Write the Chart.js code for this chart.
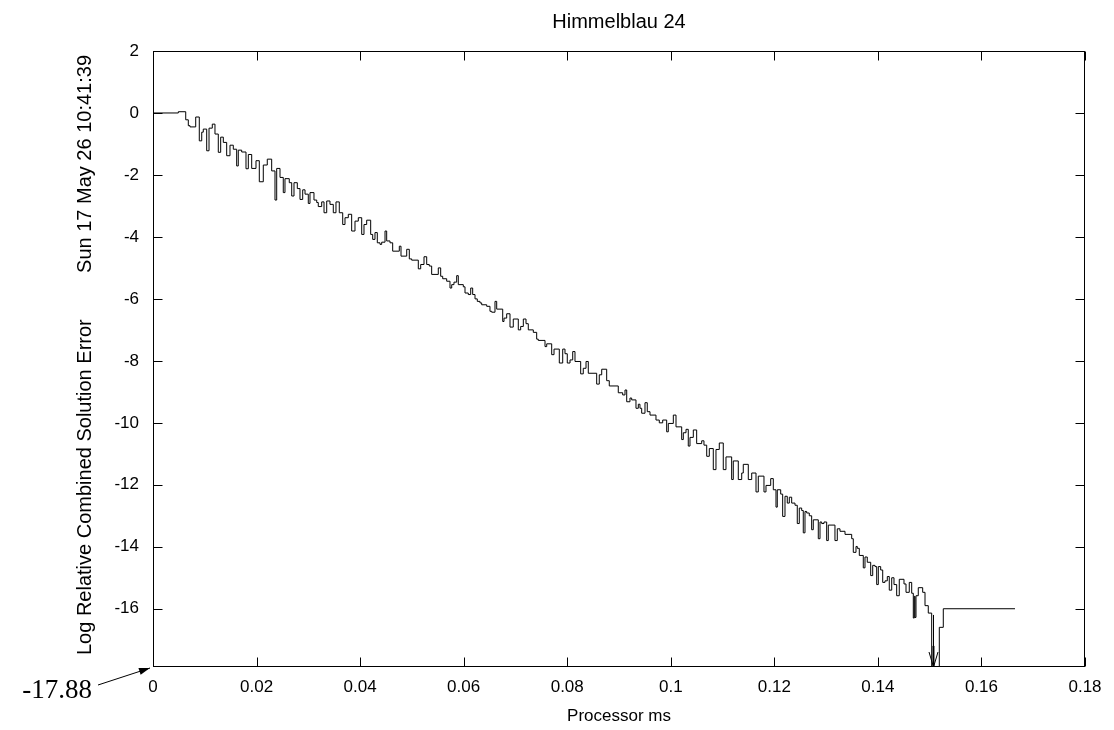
<!DOCTYPE html>
<html><head><meta charset="utf-8">
<script src="https://cdn.jsdelivr.net/npm/chart.js@4.4.1/dist/chart.umd.min.js"></script>
<style>html,body{margin:0;padding:0;background:#fff;}canvas{display:block;}</style>
</head><body>
<canvas id="c" width="1114" height="730"></canvas>
<script>
const titleText = 'Himmelblau 24';
const xAxisLabel = 'Processor ms';
const yAxisLabel = 'Log Relative Combined Solution Error';
const stampText = 'Sun 17 May 26 10:41:39';
const floorLabel = '-17.88';
const xTickValues = [0, 0.02, 0.04, 0.06, 0.08, 0.1, 0.12, 0.14, 0.16, 0.18];
const yTickValues = [-16, -14, -12, -10, -8, -6, -4, -2, 0, 2];
const xMin = 0, xMax = 0.18, yMin = -17.88, yMax = 2;
const arrowX = 0.15064, arrowFrom = -16.2;

const timeMs = [
0, 0.00489, 0.00632, 0.00682, 0.00715, 0.00825, 0.00894, 0.00941, 0.00971, 0.01037,
0.01082, 0.01145, 0.01197, 0.01261, 0.01307, 0.01358, 0.01423, 0.01487, 0.01551, 0.01616,
0.01647, 0.01713, 0.01796, 0.01841, 0.01906, 0.01989, 0.02053, 0.02130, 0.02207, 0.02292,
0.02356, 0.02389, 0.02453, 0.02516, 0.02549, 0.02632, 0.02679, 0.02723, 0.02787, 0.02839,
0.02891, 0.02936, 0.02999, 0.03032, 0.03109, 0.03162, 0.03192, 0.03258, 0.03303, 0.03355,
0.03418, 0.03482, 0.03534, 0.03598, 0.03664, 0.03708, 0.03772, 0.03837, 0.03901, 0.03965,
0.04031, 0.04075, 0.04127, 0.04204, 0.04243, 0.04287, 0.04332, 0.04384, 0.04417, 0.04481,
0.04513, 0.04577, 0.04629, 0.04757, 0.04790, 0.04900, 0.04950, 0.04996, 0.05124, 0.05170,
0.05234, 0.05286, 0.05336, 0.05382, 0.05510, 0.05556, 0.05595, 0.05672, 0.05736, 0.05769,
0.05813, 0.05865, 0.05896, 0.05993, 0.06026, 0.06089, 0.06136, 0.06174, 0.06219, 0.06263,
0.06315, 0.06348, 0.06445, 0.06508, 0.06541, 0.06605, 0.06638, 0.06754, 0.06779, 0.06831,
0.06895, 0.06958, 0.07055, 0.07101, 0.07152, 0.07204, 0.07248, 0.07345, 0.07410, 0.07441,
0.07571, 0.07604, 0.07700, 0.07745, 0.07847, 0.07913, 0.07957, 0.08001, 0.08054, 0.08106,
0.08150, 0.08260, 0.08310, 0.08363, 0.08407, 0.08569, 0.08619, 0.08666, 0.08762, 0.08812,
0.08986, 0.09071, 0.09116, 0.09149, 0.09212, 0.09245, 0.09328, 0.09373, 0.09405, 0.09438,
0.09502, 0.09546, 0.09599, 0.09714, 0.09778, 0.09844, 0.09921, 0.09952, 0.10049, 0.10101,
0.10211, 0.10242, 0.10294, 0.10338, 0.10371, 0.10435, 0.10500, 0.10597, 0.10641, 0.10694,
0.10744, 0.10821, 0.10873, 0.10937, 0.11014, 0.11066, 0.11176, 0.11207, 0.11304, 0.11370,
0.11400, 0.11497, 0.11563, 0.11646, 0.11690, 0.11800, 0.11839, 0.11930, 0.11980, 0.12032,
0.12057, 0.12123, 0.12161, 0.12206, 0.12250, 0.12289, 0.12335, 0.12399, 0.12443, 0.12482,
0.12528, 0.12559, 0.12592, 0.12625, 0.12675, 0.12721, 0.12752, 0.12849, 0.12882, 0.12915,
0.12959, 0.13011, 0.13042, 0.13171, 0.13216, 0.13268, 0.13365, 0.13494, 0.13525, 0.13577,
0.13602, 0.13641, 0.13718, 0.13751, 0.13795, 0.13861, 0.13900, 0.13944, 0.13977, 0.14008,
0.14054, 0.14093, 0.14137, 0.14182, 0.14220, 0.14267, 0.14311, 0.14363, 0.14413, 0.14504,
0.14543, 0.14606, 0.14653, 0.14684, 0.14703, 0.14717, 0.14736, 0.14780, 0.14865, 0.14910,
0.14973, 0.15039, 0.15064, 0.15083, 0.15186, 0.15263, 0.16648
];

const logError = [
0, 0.04, -0.22, -0.41, -0.45, -0.13, -0.9, -0.62, -0.52, -1.22,
-0.49, -0.36, -0.68, -1.27, -0.78, -0.95, -1.38, -1.04, -1.17, -1.71,
-1.2, -1.26, -1.8, -1.34, -1.79, -1.54, -2.22, -1.68, -1.49, -1.87,
-2.81, -1.79, -2.08, -2.57, -2.12, -2.25, -2.68, -2.25, -2.44, -2.79,
-2.48, -2.62, -2.92, -2.57, -2.81, -2.89, -3.02, -2.87, -3.22, -2.84,
-2.95, -3.22, -2.87, -3.22, -3.6, -3.38, -3.27, -3.81, -3.49, -3.38,
-3.92, -3.6, -3.46, -3.92, -4.08, -3.86, -4.19, -4.24, -4.17, -3.81,
-4.13, -4.19, -4.46, -4.3, -4.62, -4.4, -4.71, -4.75, -5.03, -4.89,
-4.64, -4.89, -4.94, -5.21, -5.0, -5.27, -5.35, -5.43, -5.65, -5.54,
-5.46, -5.25, -5.54, -5.61, -5.81, -5.86, -5.65, -5.86, -6.0, -6.08,
-6.13, -6.19, -6.24, -6.4, -6.43, -6.08, -6.33, -6.73, -6.62, -6.48,
-6.91, -6.65, -7.0, -6.89, -6.65, -6.8, -7.0, -7.08, -7.3, -7.34,
-7.54, -7.45, -7.8, -7.62, -8.07, -7.62, -7.77, -8.07, -7.97, -7.7,
-8.02, -8.42, -8.24, -8.02, -8.4, -8.75, -8.45, -8.27, -8.64, -8.81,
-9.03, -9.1, -8.94, -9.32, -9.2, -9.26, -9.53, -9.4, -9.53, -9.69,
-9.35, -9.64, -9.75, -9.91, -10.0, -9.91, -10.29, -10.02, -9.75, -10.13,
-10.54, -10.32, -10.21, -10.75, -10.47, -10.23, -10.67, -10.58, -10.72, -11.08,
-10.83, -11.51, -10.86, -10.65, -11.51, -11.1, -11.83, -11.23, -11.83, -11.62,
-11.34, -11.83, -11.62, -12.23, -11.72, -12.23, -12.02, -11.8, -12.16, -12.72,
-12.16, -12.3, -13.02, -12.37, -12.59, -12.4, -12.59, -12.66, -13.25, -12.75,
-12.83, -13.55, -12.86, -12.91, -13.0, -13.45, -13.13, -13.74, -13.2, -13.25,
-13.2, -13.8, -13.3, -13.8, -13.42, -13.5, -13.6, -13.74, -14.18, -13.99,
-14.05, -14.28, -14.68, -14.33, -14.5, -14.93, -14.6, -14.64, -15.22, -14.64,
-14.75, -15.15, -15.1, -14.96, -15.4, -15.0, -15.22, -15.58, -15.05, -15.2,
-15.47, -15.15, -15.5, -16.3, -15.6, -16.28, -15.58, -15.32, -15.47, -15.9,
-16.14, -20, -17.2, -20, -16.6, -16.0, -16.0
];

const SANS = '"Liberation Sans", Arial, sans-serif';
const FS = 17;

const decor = {
  id: 'decor',
  afterDraw(chart) {
    const {ctx, chartArea: a, scales: {x, y}} = chart;
    ctx.save();
    ctx.strokeStyle = '#000';
    ctx.fillStyle = '#000';
    ctx.lineWidth = 1;
    const L = Math.round(a.left) + 0.5, R = Math.round(a.right) - 0.5;
    const T = Math.round(a.top) + 0.5, B = Math.round(a.bottom) - 0.5;
    ctx.strokeRect(L, T, R - L, B - T);
    ctx.beginPath();
    y.ticks.forEach(t => {
      const py = Math.round(y.getPixelForValue(t.value)) + 0.5;
      ctx.moveTo(L, py); ctx.lineTo(L + 9, py);
      ctx.moveTo(R, py); ctx.lineTo(R - 9, py);
    });
    x.ticks.forEach(t => {
      const px = Math.round(x.getPixelForValue(t.value)) + 0.5;
      ctx.moveTo(px, B); ctx.lineTo(px, B - 9);
      ctx.moveTo(px, T); ctx.lineTo(px, T + 9);
    });
    ctx.stroke();

    // arrow at the end of the descent
    const ax = Math.round(x.getPixelForValue(arrowX)) + 0.5;
    const ay1 = y.getPixelForValue(arrowFrom), ay2 = y.getPixelForValue(yMin);
    ctx.beginPath();
    ctx.moveTo(ax, ay1); ctx.lineTo(ax, ay2);
    ctx.moveTo(ax - 4.5, ay2 - 15); ctx.lineTo(ax, ay2); ctx.lineTo(ax + 4.5, ay2 - 15);
    ctx.stroke();

    // texts
    ctx.textAlign = 'center';
    ctx.textBaseline = 'middle';
    const cx = (a.left + a.right) / 2;
    ctx.font = '20px ' + SANS;
    ctx.fillText(titleText, cx, 22);
    ctx.font = FS + 'px ' + SANS;
    ctx.fillText(xAxisLabel, cx, 716);

    ctx.font = '20px ' + SANS;
    ctx.save();
    ctx.translate(85, a.bottom - 12);
    ctx.rotate(-Math.PI / 2);
    ctx.textAlign = 'left';
    ctx.fillText(yAxisLabel, 0, 0);
    ctx.restore();
    ctx.save();
    ctx.translate(85, a.top + 4);
    ctx.rotate(-Math.PI / 2);
    ctx.textAlign = 'right';
    ctx.fillText(stampText, 0, 0);
    ctx.restore();

    // floor label with arrow to the corner
    ctx.font = '27px "Liberation Serif", "Times New Roman", serif';
    ctx.textAlign = 'right';
    ctx.fillText(floorLabel, 92, 691);
    const tx = x.getPixelForValue(xMin) - 3, ty = y.getPixelForValue(yMin) + 1;
    const sx = 98, sy = 685;
    const ang = Math.atan2(ty - sy, tx - sx);
    ctx.beginPath();
    ctx.moveTo(sx, sy); ctx.lineTo(tx, ty);
    ctx.stroke();
    ctx.beginPath();
    ctx.moveTo(tx, ty);
    ctx.lineTo(tx - 11 * Math.cos(ang) + 3.5 * Math.sin(ang), ty - 11 * Math.sin(ang) - 3.5 * Math.cos(ang));
    ctx.lineTo(tx - 11 * Math.cos(ang) - 3.5 * Math.sin(ang), ty - 11 * Math.sin(ang) + 3.5 * Math.cos(ang));
    ctx.closePath();
    ctx.fill();
    ctx.restore();
  }
};

new Chart(document.getElementById('c'), {
  type: 'scatter',
  data: {
    datasets: [{
      data: timeMs.map((t, i) => ({x: t, y: logError[i]})),
      showLine: true,
      stepped: true,
      borderColor: '#000',
      borderWidth: 1,
      pointRadius: 0,
      fill: false
    }]
  },
  options: {
    responsive: false,
    animation: false,
    devicePixelRatio: 1,
    events: [],
    layout: {padding: {left: 0, right: 29, top: 51, bottom: 0}},
    plugins: {legend: {display: false}, tooltip: {enabled: false}, title: {display: false}},
    scales: {
      x: {
        type: 'linear', min: xMin, max: xMax,
        grid: {display: false, drawTicks: false},
        border: {display: false},
        afterBuildTicks: s => { s.ticks = xTickValues.map(v => ({value: v})); },
        afterFit: s => { s.height = 63; },
        ticks: {
          autoSkip: false, maxRotation: 0, padding: 10, color: '#000',
          font: {family: SANS, size: FS},
          callback: v => String(Math.round(v * 100) / 100)
        }
      },
      y: {
        type: 'linear', min: yMin, max: yMax,
        grid: {display: false, drawTicks: false},
        border: {display: false},
        afterBuildTicks: s => { s.ticks = yTickValues.map(v => ({value: v})); },
        afterFit: s => { s.width = 153; },
        ticks: {
          autoSkip: false, padding: 14, color: '#000',
          font: {family: SANS, size: FS},
          callback: v => String(v)
        }
      }
    }
  },
  plugins: [decor]
});
</script>
</body></html>
